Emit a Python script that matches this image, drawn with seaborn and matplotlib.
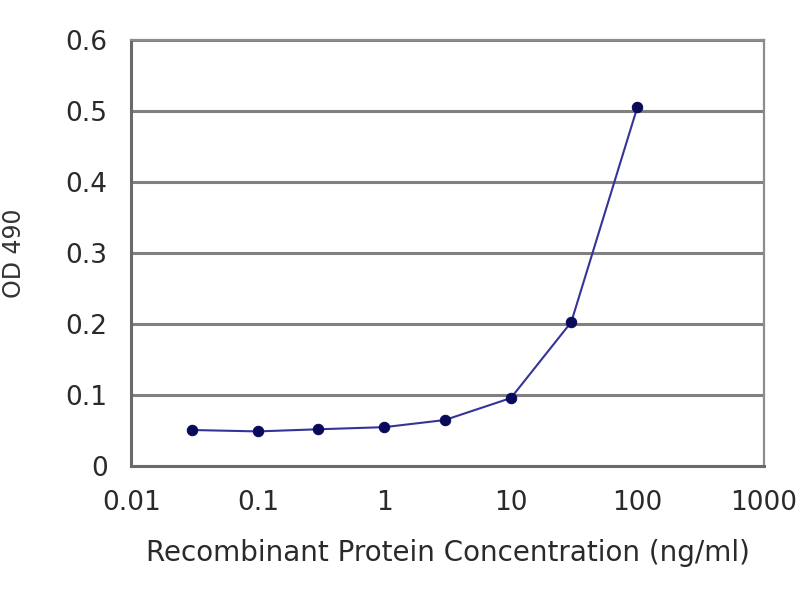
import matplotlib
matplotlib.use("Agg")
import matplotlib.pyplot as plt
import seaborn as sns
import pandas as pd

concentration = [0.03, 0.1, 0.3, 1, 3, 10, 30, 100]
od490 = [0.051, 0.049, 0.052, 0.055, 0.065, 0.096, 0.203, 0.506]
x_ticks = [0.01, 0.1, 1, 10, 100, 1000]
x_labels = ["0.01", "0.1", "1", "10", "100", "1000"]
y_ticks = [0, 0.1, 0.2, 0.3, 0.4, 0.5, 0.6]
y_labels = ["0", "0.1", "0.2", "0.3", "0.4", "0.5", "0.6"]

df = pd.DataFrame({"conc": concentration, "od": od490})

sns.set_style("white")
plt.rcParams["font.family"] = ["DejaVu Sans"]

fig = plt.figure(figsize=(8, 6), dpi=100)
ax = fig.add_axes([0.164, 0.223, 0.791, 0.71])

sns.lineplot(x="conc", y="od", data=df, ax=ax, color="#34349a", linewidth=1.5,
             marker="o", markersize=7.5, markerfacecolor="#0a0a5a",
             markeredgecolor="#0a0a5a")

ax.set_xscale("log")
ax.set_xlim(0.01, 1000)
ax.set_ylim(0, 0.6)
ax.set_xticks(x_ticks)
ax.set_xticklabels(x_labels)
ax.set_yticks(y_ticks)
ax.set_yticklabels(y_labels)
ax.minorticks_off()
ax.yaxis.grid(True, color="#808080", linewidth=2.2)
ax.set_axisbelow(True)

for s in ["left", "bottom"]:
    ax.spines[s].set_color("#6a6a6a")
    ax.spines[s].set_linewidth(2.2)
for s in ["top", "right"]:
    ax.spines[s].set_color("#8c8c8c")
    ax.spines[s].set_linewidth(1.6)

ax.tick_params(axis="x", direction="out", length=5, width=1.5, color="#6a6a6a",
               labelsize=19, labelcolor="#2a2a2a", pad=12)
ax.tick_params(axis="y", length=0, labelsize=19, labelcolor="#2a2a2a", pad=17)

ax.set_xlabel("Recombinant Protein Concentration (ng/ml)", fontsize=20,
              color="#2a2a2a")
ax.xaxis.set_label_coords(0.5, -0.172)
ax.set_ylabel("OD 490", fontsize=17, color="#333333")
ax.yaxis.set_label_coords(-0.166, 0.5)

fig.savefig("out.png", dpi=100)
